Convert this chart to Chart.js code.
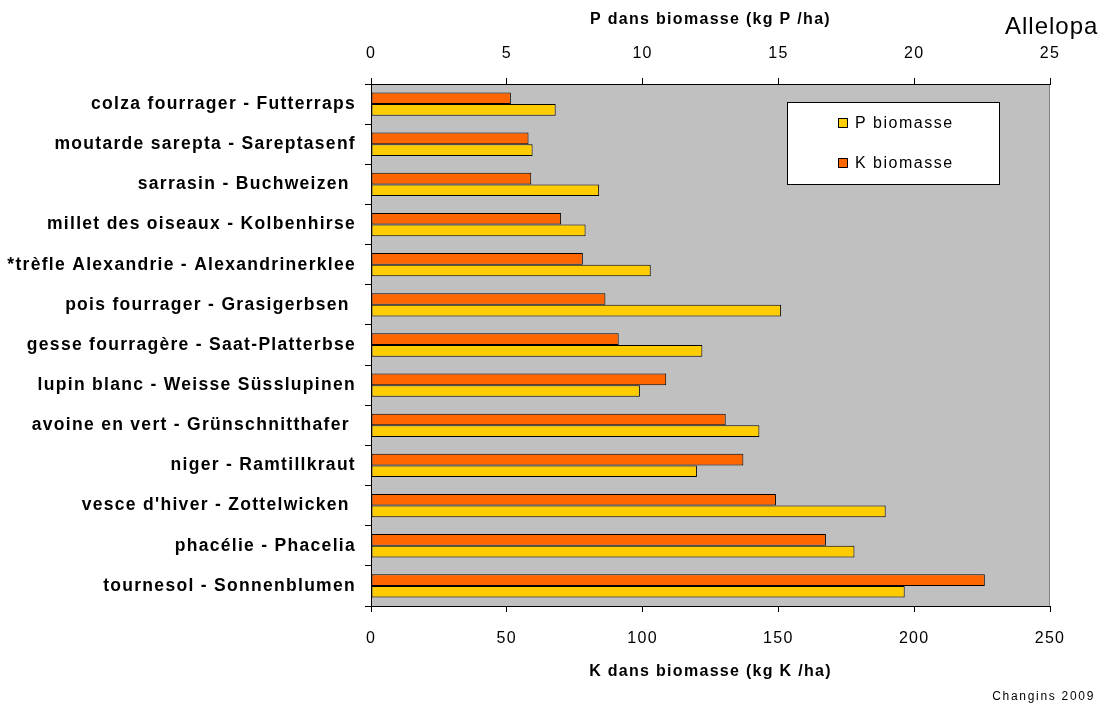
<!DOCTYPE html>
<html>
<head>
<meta charset="utf-8">
<script src="https://cdn.jsdelivr.net/npm/chart.js@4"></script>
<style>
  html, body { margin: 0; padding: 0; background: #ffffff; }
  #wrap { width: 1105px; height: 708px; position: relative; }
</style>
</head>
<body>
<div id="wrap"><canvas id="bio-chart"></canvas></div>
<script>
const categories = [
    'colza fourrager - Futterraps',
    'moutarde sarepta - Sareptasenf',
    'sarrasin - Buchweizen ',
    'millet des oiseaux - Kolbenhirse',
    '*trèfle Alexandrie - Alexandrinerklee',
    'pois fourrager - Grasigerbsen ',
    'gesse fourragère - Saat-Platterbse',
    'lupin blanc - Weisse Süsslupinen',
    'avoine en vert - Grünschnitthafer ',
    'niger - Ramtillkraut',
    "vesce d'hiver - Zottelwicken ",
    'phacélie - Phacelia',
    'tournesol - Sonnenblumen'
];
const kBiomasse = [51.5, 58, 59, 70, 78, 86.3, 91.2, 108.7, 130.6, 137.1, 149.1, 167.5, 226];
const pBiomasse = [6.8, 5.95, 8.4, 7.9, 10.3, 15.1, 12.2, 9.9, 14.3, 12.0, 18.95, 17.8, 19.65];

const font = 'Liberation Sans, Arial, sans-serif';
const spacing = '1.3px';

// gray plot area, extra texts and the boxed legend
const decor = {
    id: 'decor',
    beforeLayout(chart) {
        chart.ctx.letterSpacing = spacing;
    },
    beforeDraw(chart) {
        const a = chart.chartArea, c = chart.ctx;
        c.letterSpacing = spacing;
        c.save();
        c.fillStyle = '#C0C0C0';
        c.fillRect(a.left, a.top, a.right - a.left, a.bottom - a.top);
        c.strokeStyle = '#808080';
        c.lineWidth = 1;
        c.beginPath();
        c.moveTo(a.right - 0.5, a.top);
        c.lineTo(a.right - 0.5, a.bottom);
        c.stroke();
        c.restore();
    },
    afterDraw(chart) {
        const c = chart.ctx;
        c.save();
        c.fillStyle = '#000';
        c.font = '24px ' + font;
        c.letterSpacing = '1px';
        c.textBaseline = 'middle';
        c.textAlign = 'left';
        c.fillText('Allelopa', 1005, 27);
        c.font = '12px ' + font;
        c.letterSpacing = '1.7px';
        c.textAlign = 'right';
        c.fillText('Changins 2009', 1095, 697);
        c.letterSpacing = '1.5px';

        // legend box
        c.fillStyle = '#fff';
        c.fillRect(787, 102, 213, 83);
        c.strokeStyle = '#000';
        c.lineWidth = 1;
        c.strokeRect(787.5, 102.5, 212, 82);
        const items = [chart.data.datasets[1], chart.data.datasets[0]];
        items.forEach((ds, i) => {
            const y = 123 + i * 40;
            c.fillStyle = ds.backgroundColor;
            c.fillRect(838, y - 5, 10, 10);
            c.strokeRect(838.5, y - 4.5, 9, 9);
            c.fillStyle = '#000';
            c.font = '16px ' + font;
            c.textAlign = 'left';
            c.fillText(ds.label, 855, y + 1);
        });
        c.restore();
    }
};

new Chart(document.getElementById('bio-chart'), {
    type: 'bar',
    data: {
        labels: categories,
        datasets: [{
            label: 'K biomasse',
            data: kBiomasse,
            xAxisID: 'xK',
            backgroundColor: '#FF6600',
            borderColor: '#000',
            borderWidth: 1,
            borderSkipped: false
        }, {
            label: 'P biomasse',
            data: pBiomasse,
            xAxisID: 'xP',
            backgroundColor: '#FFCC00',
            borderColor: '#000',
            borderWidth: 1,
            borderSkipped: false
        }]
    },
    options: {
        indexAxis: 'y',
        responsive: true,
        maintainAspectRatio: false,
        animation: false,
        layout: { padding: { left: 0, right: 55, top: 0, bottom: 0 } },
        datasets: { bar: { categoryPercentage: 0.58, barPercentage: 1 } },
        plugins: {
            legend: { display: false },
            tooltip: { enabled: false }
        },
        scales: {
            y: {
                afterFit(s) { s.width = 371; },
                grid: { offset: true, drawOnChartArea: false, tickLength: 6, color: '#000' },
                border: { color: '#000' },
                ticks: {
                    color: '#000',
                    padding: 9,
                    font: { family: font, size: 17.5, weight: 'bold' }
                }
            },
            xK: {
                position: 'bottom',
                min: 0, max: 250,
                afterFit(s) { s.height = 102; },
                grid: { drawOnChartArea: false, tickLength: 6, color: '#000' },
                border: { color: '#000' },
                ticks: { stepSize: 50, color: '#000', padding: 17, font: { family: font, size: 16 } },
                title: {
                    display: true, text: 'K dans biomasse (kg K /ha)', color: '#000',
                    font: { family: font, size: 16, weight: 'bold' },
                    padding: { top: 0, bottom: 27 }
                }
            },
            xP: {
                position: 'top',
                min: 0, max: 25,
                afterFit(s) { s.height = 84; },
                grid: { drawOnChartArea: false, tickLength: 6, color: '#000' },
                border: { color: '#000' },
                ticks: { stepSize: 5, color: '#000', padding: 15, font: { family: font, size: 16 } },
                title: {
                    display: true, text: 'P dans biomasse (kg P /ha)', color: '#000',
                    font: { family: font, size: 16, weight: 'bold' },
                    padding: { top: 10, bottom: 0 }
                }
            }
        }
    },
    plugins: [decor]
});
</script>
</body>
</html>
